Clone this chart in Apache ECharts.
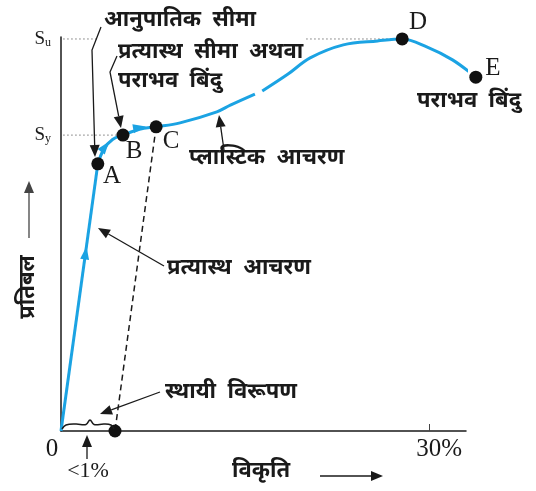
<!DOCTYPE html>
<html lang="hi">
<head>
<meta charset="utf-8">
<script src="https://cdn.jsdelivr.net/npm/echarts@6/dist/echarts.min.js"></script>
<style>
    html, body { margin: 0; padding: 0; width: 100%; height: 100%; background: #fff; overflow: hidden; }
    #chart { width: 536px; height: 491px; }
</style>
</head>
<body>
<div id="chart"></div>
<script>
    // strain in %, stress in arbitrary units (100 = top of axis)
    var elasticPart = [[0, 0], [3.0, 67.8]];
    var plasticPart1 = [[3.0, 67.8], [3.5, 71.6], [4.2, 74.0], [5.05, 75.1], [6.4, 76.6], [7.75, 77.2],
        [9.7, 78.2], [12.7, 81.0], [13.8, 82.7], [15.8, 85.5]];
    var plasticPart2 = [[16.4, 86.3], [18.5, 90.6], [20.3, 94.7], [23.0, 98.0], [25.8, 99.0], [27.8, 99.5],
        [29.8, 97.5], [31.9, 94.2], [33.8, 89.8]];
    var unloadLine = [[7.75, 77.2], [4.4, 0]];
    var keyPoints = [[3.0, 67.8], [5.05, 75.1], [7.75, 77.2], [27.8, 99.5], [33.8, 89.8], [4.4, 0]];
    var flowArrows = [[2.0, 45.2], [3.6, 72.2], [6.4, 77.0]];
    var flowArrowAngles = [-8, -38, -80];
    var yieldStress = 75.1;
    var ultimateStress = 99.5;
    var yieldGuide = [[0.2, yieldStress], [4.9, yieldStress]];
    var ultimateGuide = [[0.2, ultimateStress], [2.9, ultimateStress], ['-', '-'], [20.0, ultimateStress], [27.5, ultimateStress]];
    var xTickValues = [0, 30];
    var xTickLabels = ['0', '30%'];
    var yTickValues = [yieldStress, ultimateStress];
    var yTickSubs = ['y', 'u'];

    var blue = '#1ba3e3';
    var ink = '#1a1a1a';
    var hindi = '"Noto Sans", "DejaVu Sans", sans-serif';
    var serif = '"Liberation Serif", "DejaVu Serif", serif';

    // annotation arrow: polyline + filled head at the last point
    function arrow(pts, color) {
        color = color || ink;
        var a = pts[pts.length - 2], b = pts[pts.length - 1];
        var dx = b[0] - a[0], dy = b[1] - a[1];
        var len = Math.sqrt(dx * dx + dy * dy);
        var ux = dx / len, uy = dy / len;
        var hl = 12, hw = 5;
        var base = [b[0] - ux * hl, b[1] - uy * hl];
        var shaft = pts.slice(0, pts.length - 1).concat([base]);
        return [
            {type: 'polyline', shape: {points: shaft}, style: {stroke: color, lineWidth: 1.3, fill: null}, z: 50},
            {type: 'polygon', shape: {points: [b, [base[0] - uy * hw, base[1] + ux * hw], [base[0] + uy * hw, base[1] - ux * hw]]},
                style: {fill: color}, z: 50}
        ];
    }

    function txt(text, x, y, size, font, extra) {
        var el = {
            type: 'text', x: x, y: y, z: 60,
            style: {text: text, font: (extra && extra.weight || 'bold') + ' ' + size + 'px ' + font,
                fill: ink, textVerticalAlign: 'middle', textAlign: (extra && extra.align) || 'left'}
        };
        if (extra && extra.rotation) el.rotation = extra.rotation;
        return el;
    }

    var hs = 22;
    var graphics = [];
    graphics.push(txt('आनुपातिक  सीमा', 104, 20, hs, hindi));
    graphics.push(txt('प्रत्यास्थ  सीमा  अथवा', 118, 52, hs, hindi));
    graphics.push(txt('पराभव  बिंदु', 118, 81, hs, hindi));
    graphics.push(txt('पराभव  बिंदु', 417, 101, hs, hindi));
    graphics.push(txt('प्लास्टिक  आचरण', 189, 158, hs, hindi));
    graphics.push(txt('प्रत्यास्थ  आचरण', 167, 268, hs, hindi));
    graphics.push(txt('स्थायी  विरूपण', 165, 392, hs, hindi));
    graphics.push(txt('विकृति', 232, 471, hs, hindi));
    graphics.push(txt('प्रतिबल', 28, 287, hs, hindi, {align: 'center', rotation: Math.PI / 2}));
    graphics.push(txt('<1%', 88, 471, 22, serif, {align: 'center', weight: 'normal'}));
    graphics.push(txt('A', 112, 176, 25, serif, {align: 'center', weight: 'normal'}));
    graphics.push(txt('B', 134, 151, 25, serif, {align: 'center', weight: 'normal'}));
    graphics.push(txt('C', 171, 141, 25, serif, {align: 'center', weight: 'normal'}));
    graphics.push(txt('D', 418, 22, 25, serif, {align: 'center', weight: 'normal'}));
    graphics.push(txt('E', 493, 68, 25, serif, {align: 'center', weight: 'normal'}));

    graphics = graphics
        .concat(arrow([[101, 27], [92, 50], [95, 157]]))
        .concat(arrow([[117, 56], [110, 72], [121, 128]]))
        .concat(arrow([[224, 150], [219, 115]]))
        .concat(arrow([[164, 266], [98, 228]]))
        .concat(arrow([[160, 392], [100, 414]]))
        .concat(arrow([[87, 459], [87, 435]]))
        .concat(arrow([[320, 476], [383, 476]]))
        .concat(arrow([[29, 238], [29, 181]], '#444'));

    // brace showing the permanent set
    graphics.push({
        type: 'polyline', z: 50,
        shape: {points: [[62, 429], [66, 425], [76, 424], [86, 424.5], [90, 420], [94, 424.5], [104, 424], [111, 425], [114, 429]], smooth: 0.4},
        style: {stroke: ink, lineWidth: 1.5, fill: null}
    });

    var chart = echarts.init(document.getElementById('chart'));
    chart.setOption({
        animation: false,
        backgroundColor: '#fff',
        grid: {left: 61, right: 70, top: 37, bottom: 60},
        xAxis: {
            type: 'value', min: 0, max: 33,
            splitLine: {show: false},
            axisLine: {lineStyle: {color: ink, width: 1.5}},
            axisTick: {show: true, customValues: [30], inside: true, length: 7, lineStyle: {color: '#444', width: 1}},
            axisLabel: {
                customValues: xTickValues, margin: 6,
                formatter: function (v) {
                    var i = xTickValues.indexOf(v);
                    return i === 0 ? '{z|' + xTickLabels[i] + '}' : '{t|' + xTickLabels[i] + '}';
                },
                rich: {
                    z: {fontSize: 25, fontFamily: serif, color: ink, padding: [0, 18, 0, 0]},
                    t: {fontSize: 25, fontFamily: serif, color: ink, padding: [0, 0, 0, 20]}
                }
            }
        },
        yAxis: {
            type: 'value', min: 0, max: 100,
            splitLine: {show: false},
            axisLine: {show: true, lineStyle: {color: ink, width: 1.5}},
            axisTick: {show: false},
            axisLabel: {
                customValues: yTickValues, margin: 10,
                formatter: function (v) {
                    return '{s|S}{sub|' + yTickSubs[yTickValues.indexOf(v)] + '}';
                },
                rich: {
                    s: {fontSize: 19, fontFamily: serif, color: ink},
                    sub: {fontSize: 12, fontFamily: serif, color: ink, verticalAlign: 'bottom', padding: [8, 0, 0, 0]}
                }
            }
        },
        series: [
            {type: 'line', data: yieldGuide, symbol: 'none', lineStyle: {color: '#333', width: 1, type: [1, 3]}, z: 1},
            {type: 'line', data: ultimateGuide, symbol: 'none', lineStyle: {color: '#333', width: 1, type: [1, 3]}, z: 1},
            {type: 'line', data: unloadLine, symbol: 'none', lineStyle: {color: ink, width: 1.5, type: [6, 4]}, z: 2},
            {type: 'line', data: elasticPart, symbol: 'none', clip: false, lineStyle: {color: blue, width: 3}, z: 3},
            {type: 'line', data: plasticPart1, symbol: 'none', smooth: 0.35, clip: false, lineStyle: {color: blue, width: 3}, z: 3},
            {type: 'line', data: plasticPart2, symbol: 'none', smooth: 0.35, clip: false, lineStyle: {color: blue, width: 3}, z: 3},
            {
                type: 'scatter', clip: false, symbol: 'triangle', symbolSize: [9, 13], z: 4,
                itemStyle: {color: blue, opacity: 1},
                data: flowArrows.map(function (p, i) {
                    return {value: p, symbolRotate: flowArrowAngles[i]};
                })
            },
            {type: 'scatter', clip: false, data: keyPoints, symbolSize: 13, itemStyle: {color: '#111', opacity: 1}, z: 5}
        ],
        graphic: graphics
    });
</script>
</body>
</html>
